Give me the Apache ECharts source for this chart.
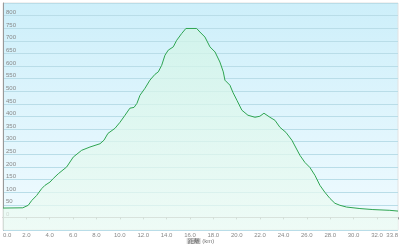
<!DOCTYPE html>
<html><head><meta charset="utf-8">
<script src="https://cdn.jsdelivr.net/npm/echarts@6/dist/echarts.min.js"></script>
<style>html,body{margin:0;padding:0;background:#fff}#c{width:400px;height:245px}</style>
</head><body><div id="c"></div>
<script>
const distanceKm = [0,1.69,2.16,2.46,2.88,3.31,3.59,4.02,4.30,4.73,5.45,6.01,6.73,7.44,8.30,8.64,8.98,9.58,10.01,10.44,10.86,11.21,11.46,11.72,12.15,12.57,13.0,13.29,13.58,13.86,14.14,14.57,14.86,15.29,15.65,16.57,16.85,17.28,17.71,18.14,18.56,18.85,18.99,19.42,19.67,20.02,20.44,20.96,21.56,21.98,22.33,22.84,23.27,23.7,24.21,24.72,25.41,25.83,26.26,26.69,27.12,27.55,27.98,28.40,28.83,29.40,30.54,31.65,33.1,33.8];
const elevationM = [37,38,48,67,87,114,127,140,154,173,200,239,266,279,292,306,333,353,377,405,433,436,452,484,512,544,567,577,603,643,663,676,702,729,749,749,735,715,676,656,616,577,544,524,496,464,425,405,397,401,413,397,385,357,337,306,246,218,198,167,127,99,75,56,48,41,35,31,28,25];
const xAxisTitle = '距離';
const xAxisUnit = '(km)';

const chart = echarts.init(document.getElementById('c'));
const grad = (a,b)=>new echarts.graphic.LinearGradient(0,0,0,1,[{offset:0,color:a},{offset:1,color:b}]);
chart.setOption({
  animation:false,
  grid:{left:3,right:2,top:3,bottom:15,containLabel:false,outerBoundsMode:'none',show:true,backgroundColor:grad('#cdeffa','#f1fbff'),borderColor:'#e2e2e2',borderWidth:1},
  xAxis:{type:'value',min:0,max:33.8,interval:2,
    name:'{t|'+xAxisTitle+'} '+xAxisUnit,nameLocation:'middle',nameGap:11,nameMoveOverlap:false,
    nameTextStyle:{fontSize:6,color:'#777',verticalAlign:'middle',lineHeight:7,rich:{t:{fontSize:6,color:'#555',backgroundColor:'#d8d8d8',padding:[0,1],lineHeight:7}}},
    axisLine:{show:true,lineStyle:{color:'#aaa',width:1}},
    axisTick:{show:true,length:2,lineStyle:{color:'#999'}},
    axisLabel:{fontSize:6,color:'#888',margin:2,formatter:v=>v.toFixed(1),alignMinLabel:'left',alignMaxLabel:'right',hideOverlap:false},
    splitLine:{show:false}},
  yAxis:{type:'value',min:-50,max:850,interval:50,
    axisLine:{show:true,lineStyle:{color:'#999',width:1}},
    axisTick:{show:false},
    axisLabel:{inside:true,fontSize:6,color:'#888',margin:3,verticalAlign:'bottom',showMinLabel:false,showMaxLabel:false},
    splitLine:{show:true,lineStyle:{color:'#b9dde8',width:1}}},
  series:[{type:'line',data:distanceKm.map((d,i)=>[d,elevationM[i]]),symbol:'none',
    lineStyle:{color:'#2fa552',width:1},
    areaStyle:{origin:'start',color:grad('#d2f5e6','#edfbf2')}}]
});
</script></body></html>
